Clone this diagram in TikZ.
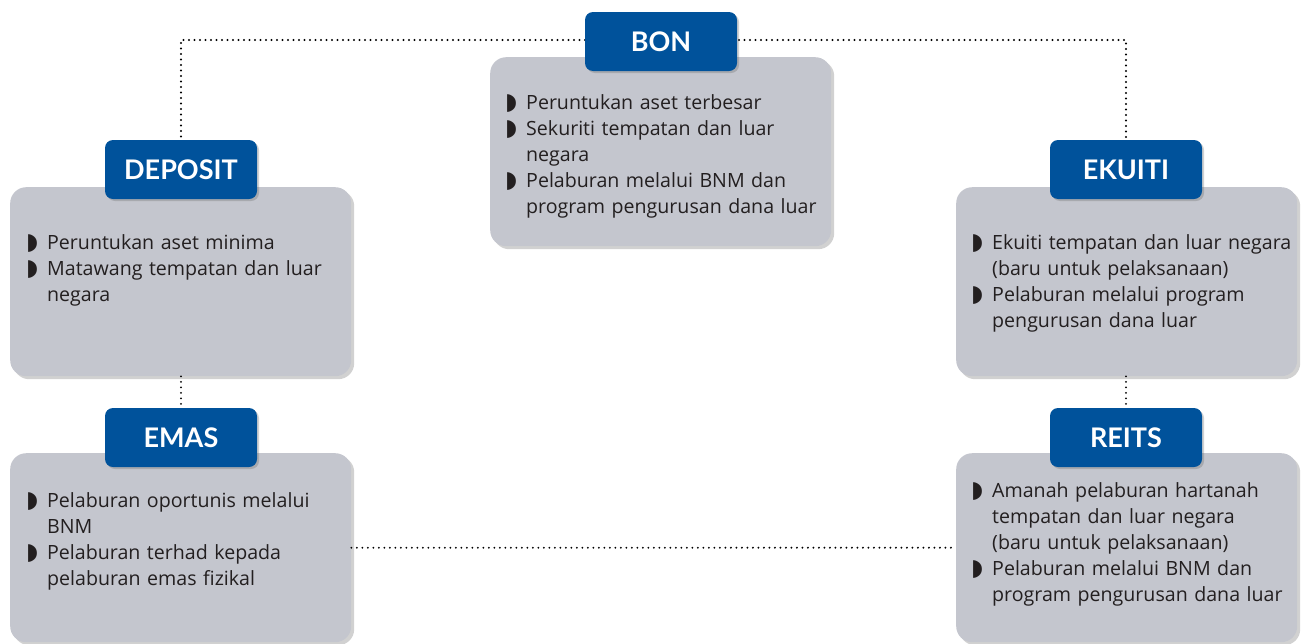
\documentclass[tikz,border=0pt]{standalone}
\usepackage{fontspec}
\setmainfont{Open Sans}
\newfontfamily\bulfont{DejaVu Sans}
\newfontfamily\hdrfont{Lato}
\usetikzlibrary{shadows}
\definecolor{hdrblue}{HTML}{00529B}
\definecolor{boxgrey}{HTML}{C4C6CE}
\definecolor{txtcol}{HTML}{231F20}
\newcommand\bitem[1]{\hangindent=21pt\hangafter=1\noindent\makebox[21pt][l]{\bulfont\fontsize{23}{23}\selectfont\char"25D7}#1\par}
\newcommand\nl{\hfil\break}
\tikzset{
  greybox/.style={fill=boxgrey, rounded corners=16pt, minimum width=341pt, minimum height=189pt, anchor=north west, inner sep=0pt,
    drop shadow={shadow xshift=3pt, shadow yshift=-3pt, opacity=0.3, fill=black!60}},
  hdrbox/.style={fill=hdrblue, rounded corners=8pt, minimum width=152pt, minimum height=59pt, inner sep=0pt,
    text=white, font=\hdrfont\fontsize{27}{27}\selectfont\bfseries,
    drop shadow={shadow xshift=2pt, shadow yshift=-2pt, opacity=0.3, fill=black!60}},
  itemtext/.style={anchor=north west, inner sep=0pt, align=left, text=txtcol,
    font=\fontsize{19.6}{26}\selectfont},
  dotline/.style={line width=2.1pt, dash pattern=on 0pt off 5.5pt, line cap=round, black}
}
\begin{document}
\begin{tikzpicture}[x=1pt, y=-1pt]
\useasboundingbox (0,0) rectangle (1309,643);
% boxes
\node[greybox] (depbox) at (10,187) {};
\node[greybox] (emabox) at (10,453) {};
\node[greybox] (bonbox) at (490,57) {};
\node[greybox] (ekubox) at (956,187) {};
\node[greybox] (reibox) at (956,453) {};
% header centres
\coordinate (dephc) at (181,169.5);
\coordinate (emahc) at (181,437.5);
\coordinate (bonhc) at (661,41.5);
\coordinate (ekuhc) at (1126,169.5);
\coordinate (reihc) at (1126,437.5);
% connectors
\draw[dotline] (depbox.south -| dephc) -- (emahc);
\draw[dotline] (ekubox.south -| ekuhc) -- (reihc);
\draw[dotline] (emabox.east) -- (reibox.west);
\draw[dotline] (dephc) -- (181,40) -- (1126,40) -- (ekuhc);
% headers
\node[hdrbox] (dephdr) at (dephc) {DEPOSIT};
\node[hdrbox] (emahdr) at (emahc) {EMAS};
\node[hdrbox] (bonhdr) at (bonhc) {BON};
\node[hdrbox] (ekuhdr) at (ekuhc) {EKUITI};
\node[hdrbox] (reihdr) at (reihc) {REITS};
% texts
\node[itemtext, text width=320pt] (bontxt) at (505,94) {%
\bitem{Peruntukan aset terbesar}
\bitem{Sekuriti tempatan dan luar\nl negara}
\bitem{Pelaburan melalui BNM dan\nl program pengurusan dana luar}};
\node[itemtext, text width=320pt] (deptxt) at (26,234) {%
\bitem{Peruntukan aset minima}
\bitem{Matawang tempatan dan luar\nl negara}};
\node[itemtext, text width=320pt] (ematxt) at (26,492) {%
\bitem{Pelaburan oportunis melalui\nl BNM}
\bitem{Pelaburan terhad kepada\nl pelaburan emas fizikal}};
\node[itemtext, text width=330pt] (ekutxt) at (971,234) {%
\bitem{Ekuiti tempatan dan luar negara\nl (baru untuk pelaksanaan)}
\bitem{Pelaburan melalui program\nl pengurusan dana luar}};
\node[itemtext, text width=330pt] (reitxt) at (971,482) {%
\bitem{Amanah pelaburan hartanah\nl tempatan dan luar negara\nl (baru untuk pelaksanaan)}
\bitem{Pelaburan melalui BNM dan\nl program pengurusan dana luar}};
\end{tikzpicture}
\end{document}
